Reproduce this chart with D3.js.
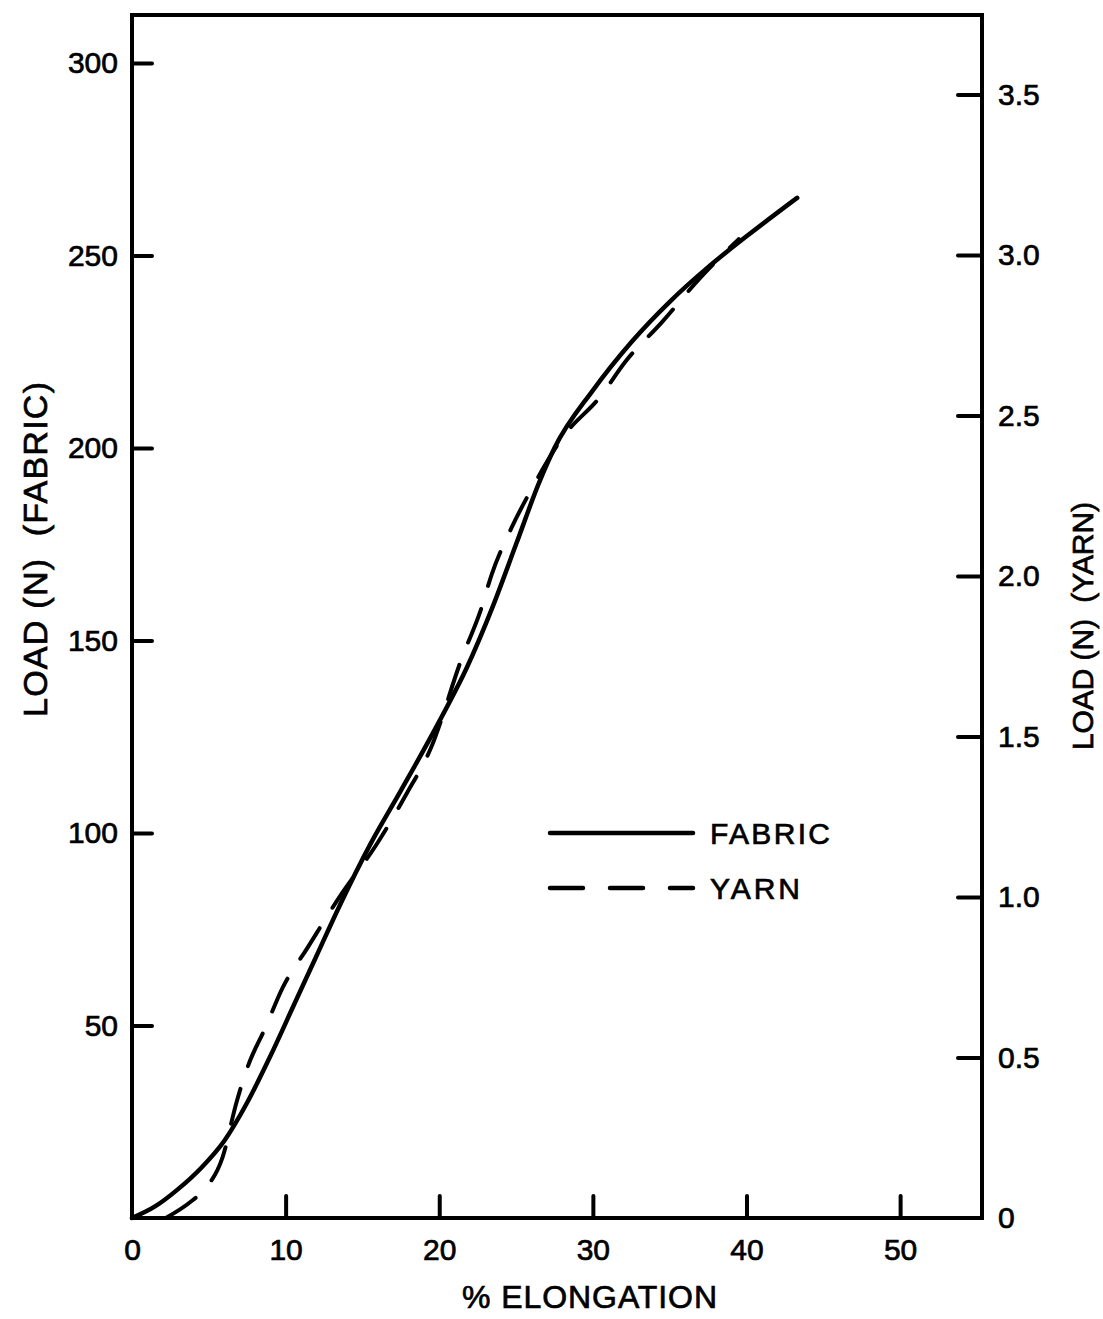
<!DOCTYPE html>
<html><head><meta charset="utf-8">
<script src="https://cdn.jsdelivr.net/npm/d3@7"></script>
<style>body{margin:0;background:#fff}svg{display:block}text{font-family:"Liberation Sans",Arial,sans-serif;fill:#000;stroke:#000;stroke-width:0.7px}</style>
</head><body><svg id="c" width="1103" height="1319"></svg>
<script>
const fabric = [[0,0],[1.5,3],[3,7.5],[4.5,13],[6,20],[7.5,30],[9,42],[10.5,55],[12,68],[13.5,81],[15.5,97],[17.5,111],[20,129],[21.8,143],[23.5,159],[25,175],[26.5,191],[27.5,200],[30,215],[32.5,227.5],[35,238],[37.5,247],[40,255],[43.3,265]];
const yarn = [[2.2,0],[3.8,0.05],[4.8,0.093],[5.9,0.19],[6.8,0.36],[7.5,0.467],[8.7,0.595],[9.8,0.717],[11.4,0.84],[13.5,1.0],[16,1.17],[17.9,1.324],[19.4,1.458],[21.5,1.748],[22.7,1.894],[23.4,2.003],[24.7,2.15],[26,2.27],[28,2.43],[30.5,2.56],[32.1,2.667],[34.5,2.791],[37,2.93],[39.5,3.05]];
const xTicks = [0,10,20,30,40,50];
const yLeftTicks = [50,100,150,200,250,300];
const yRightTicks = [0,0.5,1.0,1.5,2.0,2.5,3.0,3.5];
const legendLabels = ["FABRIC","YARN"];

const L=132,R=982,T=15,B=1218;
const svg=d3.select("#c");
const x=d3.scaleLinear().domain([0,55.33]).range([L,R]);
const yL=d3.scaleLinear().domain([0,312.5]).range([B,T]);
const yR=d3.scaleLinear().domain([0,3.748]).range([B,T]);
const fs=30;

svg.append("rect").attr("x",L).attr("y",T).attr("width",R-L).attr("height",B-T)
  .attr("fill","none").attr("stroke","#000").attr("stroke-width",4);

const xa=svg.append("g").attr("transform",`translate(0,${B})`)
  .call(d3.axisBottom(x).tickValues(xTicks).tickSize(-22).tickPadding(16).tickFormat(d3.format("d")));
const yla=svg.append("g").attr("transform",`translate(${L},0)`)
  .call(d3.axisLeft(yL).tickValues(yLeftTicks).tickSize(-20).tickPadding(14).tickFormat(d3.format("d")));
const yra=svg.append("g").attr("transform",`translate(${R},0)`)
  .call(d3.axisRight(yR).tickValues(yRightTicks).tickSize(-24).tickPadding(10).tickFormat(d=>d===0?"0":d3.format(".1f")(d)));
[xa,yla,yra].forEach(g=>{
  g.select(".domain").remove();
  g.selectAll(".tick line").attr("stroke","#000").attr("stroke-width",4).attr("stroke-linecap","round");
  g.selectAll(".tick text").attr("font-size",fs).attr("font-family","Liberation Sans, Arial, sans-serif").attr("fill","#000");
});
xa.selectAll(".tick text").attr("dy","0.88em");
xa.selectAll(".tick").filter(d=>d===0).select("line").remove();
yra.selectAll(".tick").filter(d=>d===0).select("line").remove();
yra.selectAll(".tick text").attr("dx",6);

const lf=d3.line().x(d=>x(d[0])).y(d=>yL(d[1])).curve(d3.curveMonotoneX);
const ly=d3.line().x(d=>x(d[0])).y(d=>yR(d[1])).curve(d3.curveMonotoneX);
svg.append("path").attr("d",lf(fabric)).attr("fill","none").attr("stroke","#000").attr("stroke-width",4.5).attr("stroke-linecap","round");
svg.append("path").attr("d",ly(yarn)).attr("fill","none").attr("stroke","#000").attr("stroke-width",4).attr("stroke-linecap","round").attr("stroke-dasharray","36,24");

const lg=svg.append("g");
lg.append("line").attr("x1",550).attr("x2",693).attr("y1",833).attr("y2",833).attr("stroke","#000").attr("stroke-width",4.5).attr("stroke-linecap","round");
lg.append("line").attr("x1",550).attr("x2",693).attr("y1",888).attr("y2",888).attr("stroke","#000").attr("stroke-width",4.5).attr("stroke-linecap","round").attr("stroke-dasharray","33,27");
lg.append("text").attr("x",710).attr("y",844).attr("font-size",fs).attr("textLength",120).attr("lengthAdjust","spacing").text(legendLabels[0]);
lg.append("text").attr("x",710).attr("y",899).attr("font-size",fs).attr("textLength",90).attr("lengthAdjust","spacing").text(legendLabels[1]);

svg.append("text").attr("x",462).attr("y",1308).attr("font-size",32).attr("textLength",255).attr("lengthAdjust","spacing").text("% ELONGATION");
svg.append("text").attr("transform","translate(47,717) rotate(-90)").attr("font-size",34).attr("textLength",335).attr("lengthAdjust","spacing").style("white-space","pre").text("LOAD (N)  (FABRIC)");
svg.append("text").attr("transform","translate(1093,750) rotate(-90)").attr("font-size",30).attr("textLength",248).attr("lengthAdjust","spacing").style("white-space","pre").text("LOAD (N)  (YARN)");
</script></body></html>
